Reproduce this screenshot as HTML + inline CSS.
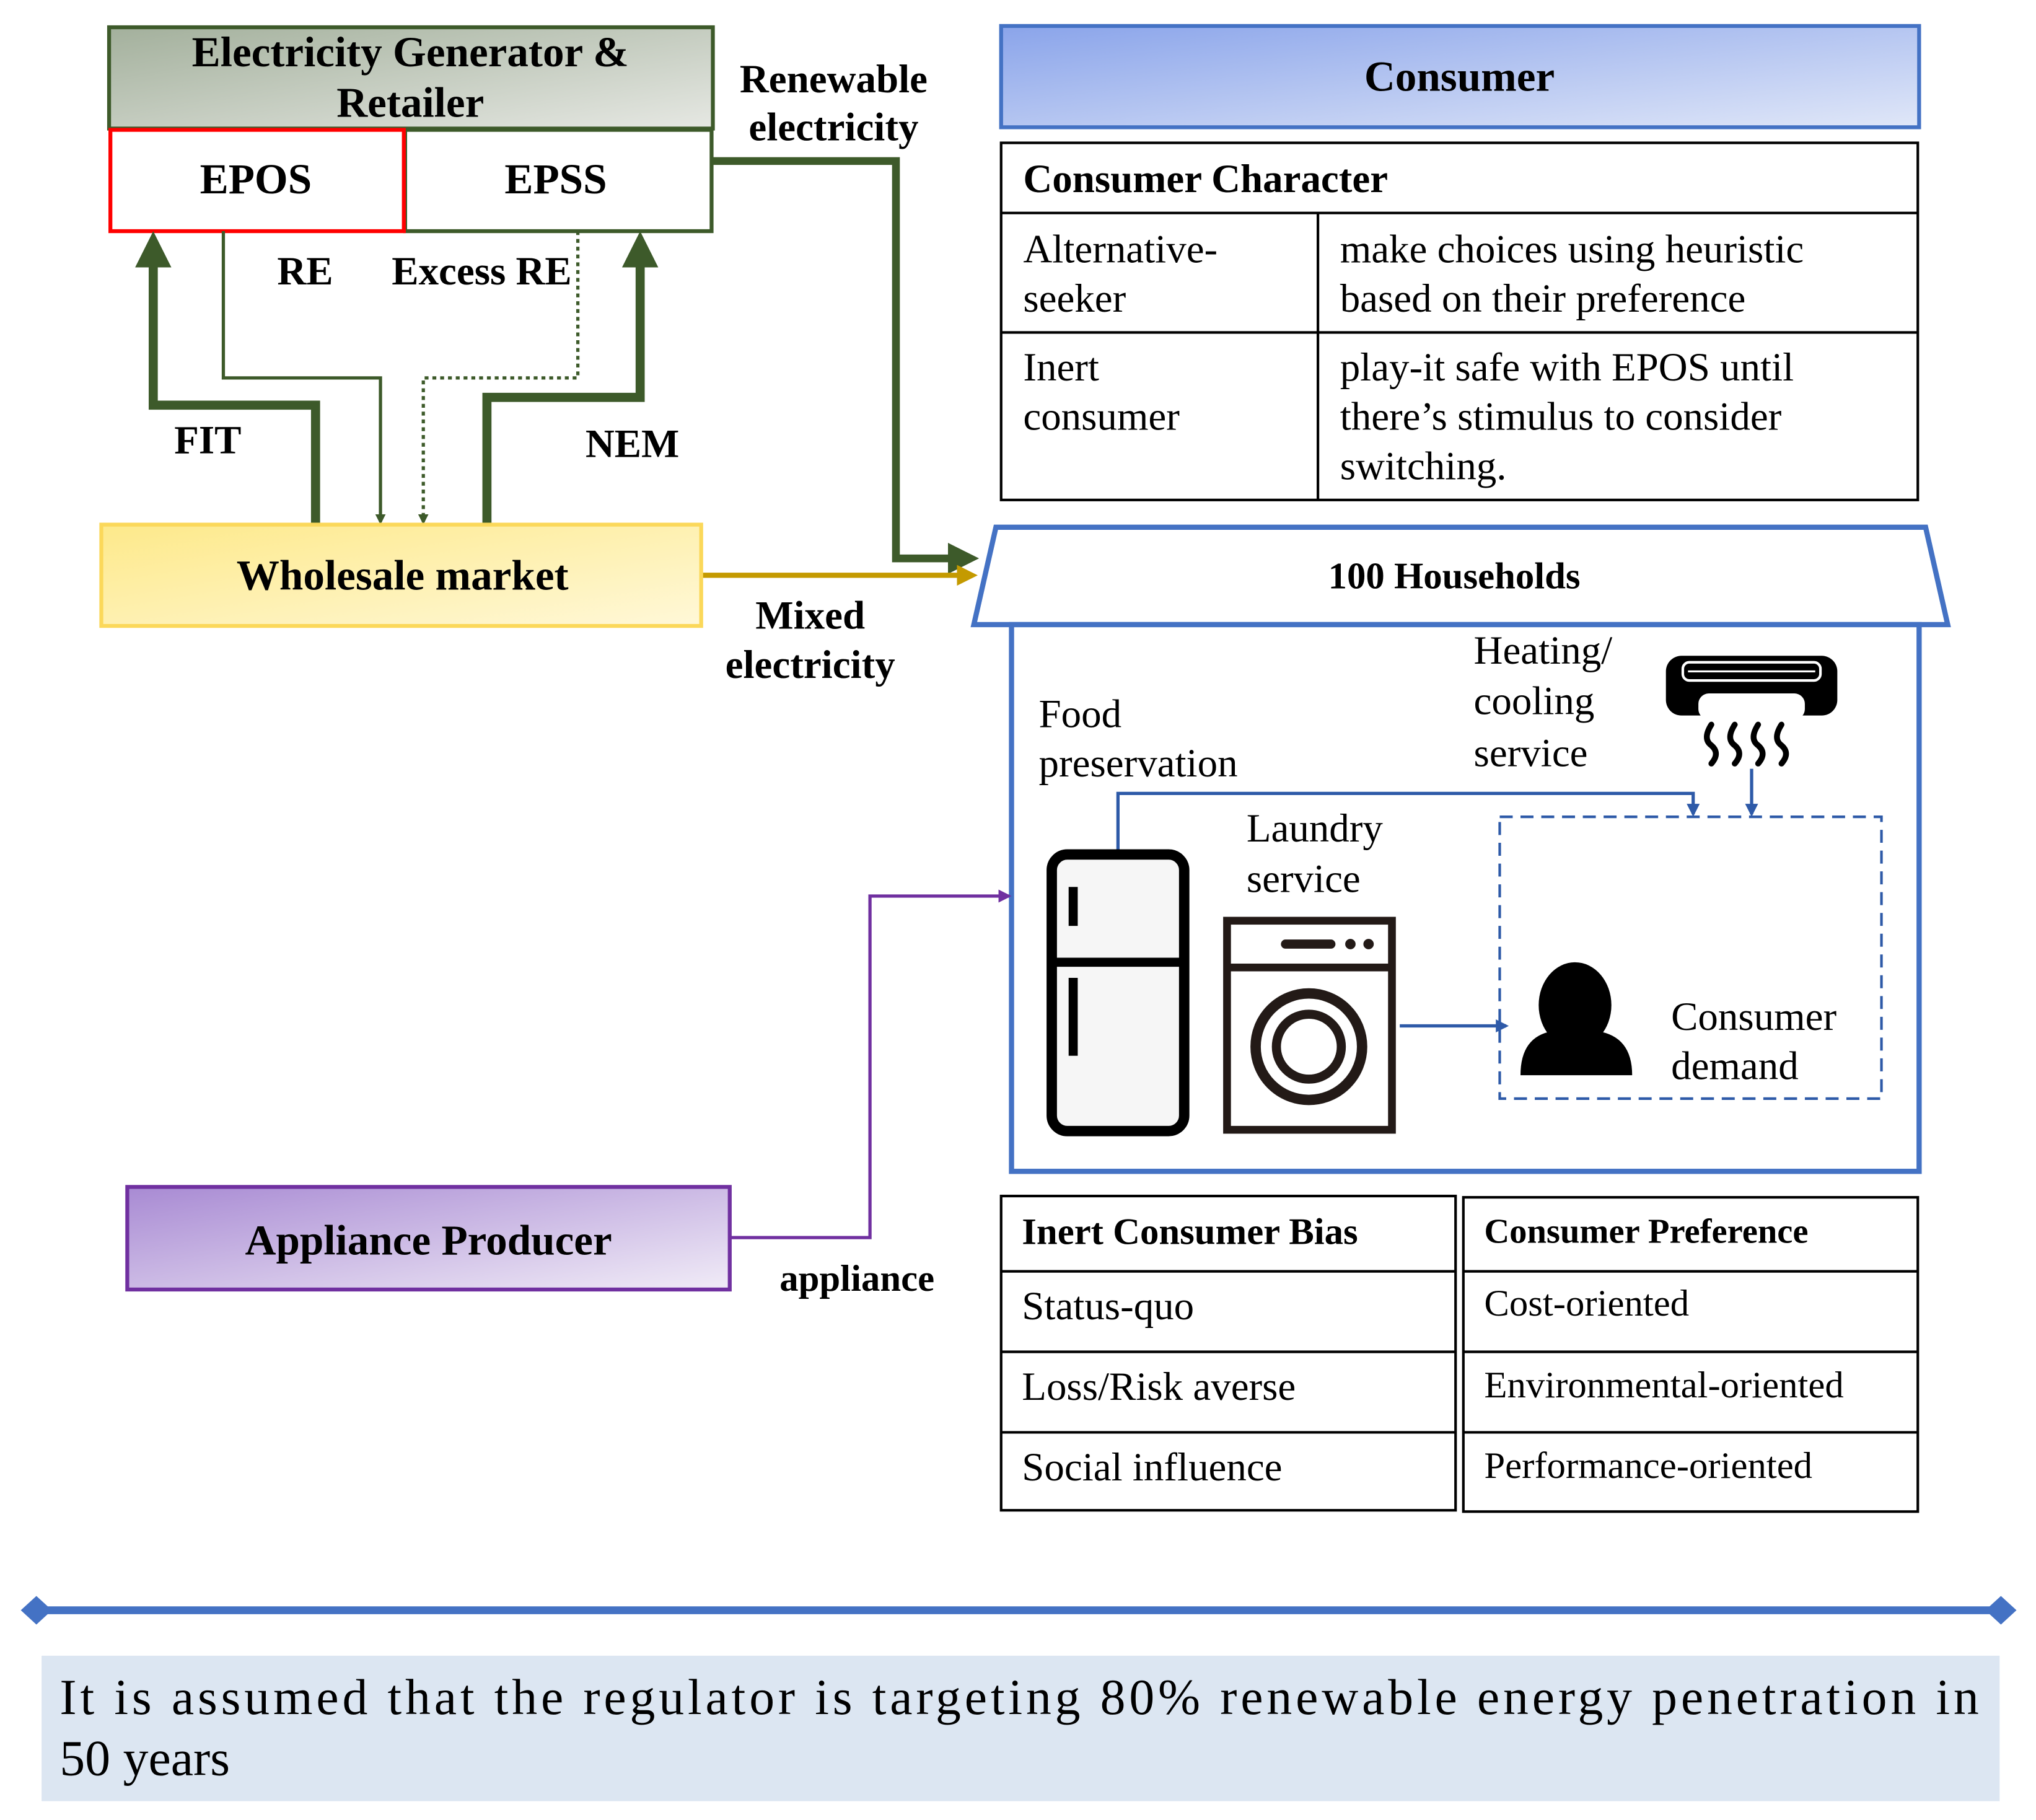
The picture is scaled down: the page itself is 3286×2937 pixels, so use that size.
<!DOCTYPE html>
<html><head><meta charset="utf-8"><style>
html,body{margin:0;padding:0;background:#fff;}
svg{display:block;}
text{font-family:"Liberation Serif",serif;fill:#000;}
.b{font-weight:bold;}
</style></head><body>
<svg width="3286" height="2937" viewBox="0 0 1568 1401.5" xmlns="http://www.w3.org/2000/svg">
<defs>
<linearGradient id="gg" x1="0" y1="0" x2="1" y2="1"><stop offset="0" stop-color="#a3b09c"/><stop offset="1" stop-color="#e6e8e3"/></linearGradient>
<linearGradient id="yg" x1="0" y1="0" x2="1" y2="1"><stop offset="0" stop-color="#fde98a"/><stop offset="1" stop-color="#fff8d8"/></linearGradient>
<linearGradient id="bg" x1="0" y1="0" x2="1" y2="1"><stop offset="0" stop-color="#8aa4ea"/><stop offset="1" stop-color="#e0e7f8"/></linearGradient>
<linearGradient id="pg" x1="0" y1="0" x2="1" y2="1"><stop offset="0" stop-color="#a88ad3"/><stop offset="1" stop-color="#f1ecf7"/></linearGradient>
<marker id="ag" markerWidth="4" markerHeight="4" refX="2" refY="2" orient="auto"><path d="M0,0 L4,2 L0,4z" fill="#3d5a2a"/></marker>
<marker id="agt" markerWidth="8" markerHeight="8" refX="6" refY="4" orient="auto" markerUnits="userSpaceOnUse"><path d="M0,0 L8,4 L0,8z" fill="#3d5a2a"/></marker>
<marker id="ay" markerWidth="4" markerHeight="4" refX="2" refY="2" orient="auto"><path d="M0,0 L4,2 L0,4z" fill="#c49a00"/></marker>
<marker id="ab" markerWidth="10" markerHeight="10" refX="8" refY="5" orient="auto" markerUnits="userSpaceOnUse"><path d="M0,0 L10,5 L0,10z" fill="#2e5aa8"/></marker>
<marker id="ap" markerWidth="10" markerHeight="10" refX="8" refY="5" orient="auto" markerUnits="userSpaceOnUse"><path d="M0,0 L10,5 L0,10z" fill="#7030a0"/></marker>
</defs>

<rect x="84" y="21" width="465" height="78" fill="url(#gg)" stroke="#3d5a2a" stroke-width="3"/>
<text x="316" y="51" font-size="33" class="b" text-anchor="middle">Electricity Generator &amp;</text>
<text x="316" y="90" font-size="33" class="b" text-anchor="middle">Retailer</text>
<rect x="312" y="100" width="236" height="78" fill="#fff" stroke="#3d5a2a" stroke-width="3"/>
<rect x="85" y="100" width="226" height="78" fill="#fff" stroke="#ff0000" stroke-width="3"/>
<text x="197" y="149" font-size="33" class="b" text-anchor="middle">EPOS</text>
<text x="428" y="149" font-size="33" class="b" text-anchor="middle">EPSS</text>
<text x="642" y="71" font-size="31" class="b" text-anchor="middle">Renewable</text>
<text x="642" y="108" font-size="31" class="b" text-anchor="middle">electricity</text>

<polyline points="548,124 690,124 690,430 742,430" fill="none" stroke="#3d5a2a" stroke-width="6" marker-end="url(#ag)"/>
<polyline points="243,404 243,312 118,312 118,192" fill="none" stroke="#3d5a2a" stroke-width="7" marker-end="url(#ag)"/>
<polyline points="375,404 375,306 493,306 493,192" fill="none" stroke="#3d5a2a" stroke-width="7" marker-end="url(#ag)"/>
<polyline points="172,178 172,291 293,291 293,402" fill="none" stroke="#3d5a2a" stroke-width="2.5" marker-end="url(#agt)"/>
<polyline points="445,178 445,291 326,291 326,402" fill="none" stroke="#3d5a2a" stroke-width="2.5" stroke-dasharray="3,3" marker-end="url(#agt)"/>
<line x1="540" y1="443" x2="745" y2="443" stroke="#c49a00" stroke-width="4" marker-end="url(#ay)"/>
<text x="235" y="219" font-size="31" class="b" text-anchor="middle">RE</text>
<text x="371" y="219" font-size="31" class="b" text-anchor="middle">Excess RE</text>
<text x="160" y="349" font-size="31" class="b" text-anchor="middle">FIT</text>
<text x="487" y="352" font-size="31" class="b" text-anchor="middle">NEM</text>

<rect x="78" y="404" width="462" height="78" fill="url(#yg)" stroke="#fbd85a" stroke-width="3"/>
<text x="310" y="454" font-size="33" class="b" text-anchor="middle">Wholesale market</text>
<text x="624" y="484" font-size="31" class="b" text-anchor="middle">Mixed</text>
<text x="624" y="522" font-size="31" class="b" text-anchor="middle">electricity</text>

<rect x="771" y="20" width="707" height="78" fill="url(#bg)" stroke="#4472c4" stroke-width="3"/>
<text x="1124" y="70" font-size="33" class="b" text-anchor="middle">Consumer</text>
<g stroke="#000" stroke-width="2" fill="none">
<rect x="771" y="110" width="706" height="275"/>
<line x1="771" y1="164" x2="1477" y2="164"/>
<line x1="771" y1="256" x2="1477" y2="256"/>
<line x1="1015" y1="164" x2="1015" y2="385"/>
</g>
<text x="788" y="148" font-size="31" class="b">Consumer Character</text>
<g font-size="31">
<text x="788" y="202">Alternative-</text><text x="788" y="240">seeker</text>
<text x="1032" y="202">make choices using heuristic</text><text x="1032" y="240">based on their preference</text>
<text x="788" y="293">Inert</text><text x="788" y="331">consumer</text>
<text x="1032" y="293">play-it safe with EPOS until</text><text x="1032" y="331">there’s stimulus to consider</text><text x="1032" y="369">switching.</text>
</g>

<polygon points="750,481 767,406 1483,406 1500,481" fill="#fff" stroke="#4472c4" stroke-width="4"/>
<text x="1120" y="453" font-size="29" class="b" text-anchor="middle">100 Households</text>
<rect x="779" y="481" width="699" height="421" fill="#fff" stroke="#4472c4" stroke-width="4"/>
<g font-size="31">
<text x="800" y="560">Food</text><text x="800" y="598">preservation</text>
<text x="1135" y="511">Heating/</text><text x="1135" y="550">cooling</text><text x="1135" y="590">service</text>
<text x="960" y="648">Laundry</text><text x="960" y="687">service</text>
<text x="1287" y="793">Consumer</text><text x="1287" y="831">demand</text>
</g>
<rect x="1155" y="629" width="294" height="217" fill="none" stroke="#2e5aa8" stroke-width="2" stroke-dasharray="10,6"/>
<polyline points="861,655 861,611 1304,611 1304,627" fill="none" stroke="#2e5aa8" stroke-width="2.5" marker-end="url(#ab)"/>
<line x1="1349" y1="592" x2="1349" y2="627" stroke="#2e5aa8" stroke-width="2.5" marker-end="url(#ab)"/>
<line x1="1078" y1="790" x2="1160" y2="790" stroke="#2e5aa8" stroke-width="2.5" marker-end="url(#ab)"/>

<rect x="810" y="658" width="102" height="213" rx="12" fill="#f6f6f6" stroke="#000" stroke-width="8"/>
<line x1="810" y1="741" x2="912" y2="741" stroke="#000" stroke-width="7"/>
<rect x="823" y="683" width="7" height="30" fill="#000"/>
<rect x="823" y="753" width="7" height="60" fill="#000"/>
<rect x="945" y="709" width="127" height="161" fill="#fff" stroke="#231a17" stroke-width="6"/>
<line x1="945" y1="745" x2="1072" y2="745" stroke="#231a17" stroke-width="6"/>
<line x1="990" y1="727" x2="1025" y2="727" stroke="#231a17" stroke-width="7" stroke-linecap="round"/>
<circle cx="1040" cy="727" r="4" fill="#231a17"/><circle cx="1054" cy="727" r="4" fill="#231a17"/>
<circle cx="1008" cy="806" r="41" fill="none" stroke="#231a17" stroke-width="8"/>
<circle cx="1008" cy="806" r="25" fill="none" stroke="#231a17" stroke-width="7"/>
<rect x="1283" y="505" width="132" height="46" rx="12" fill="#000"/>
<rect x="1296" y="510" width="106" height="14" rx="5" fill="none" stroke="#fff" stroke-width="2"/>
<line x1="1300" y1="517" x2="1398" y2="517" stroke="#fff" stroke-width="1.5"/>
<rect x="1308" y="534" width="82" height="20" rx="8" fill="#fff"/>
<g stroke="#000" stroke-width="4.5" fill="none" stroke-linecap="round">
<path d="M1318,558 q-7,11 0,16 q7,6 0,14"/>
<path d="M1336,558 q-7,11 0,16 q7,6 0,14"/>
<path d="M1354,558 q-7,11 0,16 q7,6 0,14"/>
<path d="M1372,558 q-7,11 0,16 q7,6 0,14"/>
</g>
<ellipse cx="1213" cy="774" rx="28" ry="33" fill="#000"/>
<path d="M1171,828 q0,-30 25,-34 q17,10 34,0 q27,4 27,34 z" fill="#000"/>

<rect x="98" y="914" width="464" height="79" fill="url(#pg)" stroke="#7030a0" stroke-width="3"/>
<text x="330" y="966" font-size="33" class="b" text-anchor="middle">Appliance Producer</text>
<polyline points="562,953 670,953 670,690 777,690" fill="none" stroke="#7030a0" stroke-width="2.5" marker-end="url(#ap)"/>
<text x="660" y="994" font-size="29" class="b" text-anchor="middle">appliance</text>

<g stroke="#000" stroke-width="2" fill="none">
<rect x="771" y="921" width="350" height="242"/>
<line x1="771" y1="979" x2="1121" y2="979"/><line x1="771" y1="1041" x2="1121" y2="1041"/><line x1="771" y1="1103" x2="1121" y2="1103"/>
<rect x="1127" y="922" width="350" height="242"/>
<line x1="1127" y1="979" x2="1477" y2="979"/><line x1="1127" y1="1041" x2="1477" y2="1041"/><line x1="1127" y1="1103" x2="1477" y2="1103"/>
</g>
<text x="787" y="958" font-size="29" class="b">Inert Consumer Bias</text>
<text x="1143" y="957" font-size="27" class="b">Consumer Preference</text>
<g font-size="31">
<text x="787" y="1016">Status-quo</text><text x="787" y="1078">Loss/Risk averse</text><text x="787" y="1140">Social influence</text>
</g>
<g font-size="29">
<text x="1143" y="1013">Cost-oriented</text><text x="1143" y="1076">Environmental-oriented</text><text x="1143" y="1138">Performance-oriented</text>
</g>

<line x1="28" y1="1240" x2="1541" y2="1240" stroke="#4472c4" stroke-width="6"/>
<polygon points="16,1240 28,1229 40,1240 28,1251" fill="#4472c4"/>
<polygon points="1529,1240 1541,1229 1553,1240 1541,1251" fill="#4472c4"/>
<rect x="32" y="1275" width="1508" height="112" fill="#dce6f2"/>
<text x="46" y="1320" font-size="39" textLength="1478" lengthAdjust="spacing">It is assumed that the regulator is targeting 80% renewable energy penetration in</text>
<text x="46" y="1367" font-size="39">50 years</text>
</svg>
</body></html>
